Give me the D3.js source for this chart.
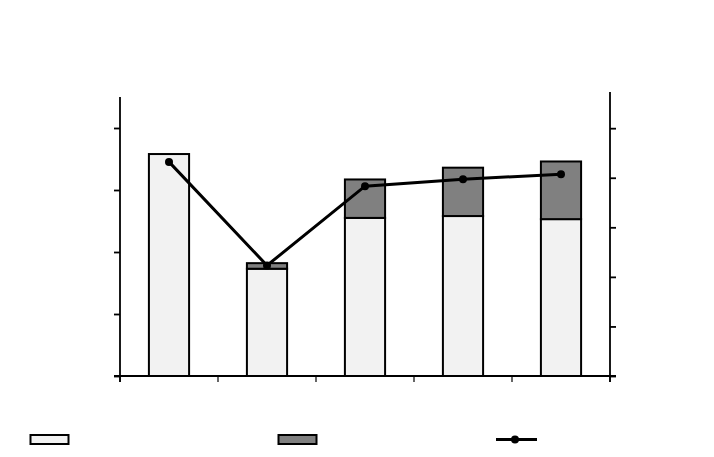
<!DOCTYPE html>
<html>
<head>
<meta charset="utf-8">
<script src="https://cdn.jsdelivr.net/npm/d3@7"></script>
<style>
  body { margin: 0; background: #fff; }
  svg { display: block; }
</style>
</head>
<body>
<svg id="chart" width="714" height="457"></svg>
<script>
// categories (no labels are printed in the reference)
const categories = ['c1', 'c2', 'c3', 'c4', 'c5'];
// stacked bars, left axis
const lightValues = [3.58, 1.73, 2.55, 2.58, 2.53];
const darkValues = [0, 0.09, 0.62, 0.78, 0.93];
// line, right axis
const lineValues = [4.32, 2.23, 3.83, 3.97, 4.07];
// tick values
const leftTicks = [0, 1, 2, 3, 4];
const rightTicks = [0, 1, 2, 3, 4, 5];

const svg = d3.select('#chart');

const x0 = 120, x1 = 610, baseY = 376;

const xScale = d3.scaleBand().domain(categories).range([x0, x1]).padding(0.59).paddingOuter(0.295);
const yLeft = d3.scaleLinear().domain([0, 4.5]).range([baseY, 97]);
const yRight = d3.scaleLinear().domain([0, 5.73]).range([baseY, 92]);

// bars
const g = svg.append('g');
categories.forEach(function (c, i) {
    const light = lightValues[i], dark = darkValues[i];
    g.append('rect')
        .attr('x', xScale(c))
        .attr('y', yLeft(light))
        .attr('width', xScale.bandwidth())
        .attr('height', yLeft(0) - yLeft(light))
        .attr('fill', '#f2f2f2')
        .attr('stroke', '#000')
        .attr('stroke-width', 2);
    if (dark > 0) {
        g.append('rect')
            .attr('x', xScale(c))
            .attr('y', yLeft(light + dark))
            .attr('width', xScale.bandwidth())
            .attr('height', yLeft(light) - yLeft(light + dark))
            .attr('fill', '#808080')
            .attr('stroke', '#000')
            .attr('stroke-width', 2);
    }
});

// left axis
svg.append('g')
    .attr('transform', 'translate(' + x0 + ',0)')
    .call(d3.axisLeft(yLeft).tickValues(leftTicks).tickSize(6).tickFormat(''))
    .call(function (a) { a.select('.domain').attr('d', 'M0,' + yLeft(4.5) + 'V' + (baseY + 6)); });

// right axis
svg.append('g')
    .attr('transform', 'translate(' + x1 + ',0)')
    .call(d3.axisRight(yRight).tickValues(rightTicks).tickSize(6).tickFormat(''))
    .call(function (a) { a.select('.domain').attr('d', 'M0,' + yRight(5.73) + 'V' + (baseY + 6)); });

// x axis line and category boundary ticks
svg.append('line')
    .attr('x1', x0 - 6).attr('x2', x1 + 6)
    .attr('y1', baseY).attr('y2', baseY)
    .attr('stroke', '#000').attr('stroke-width', 2);
svg.selectAll('.xtick')
    .data([x0].concat(categories.slice(1).map(function (c) { return xScale(c) - (xScale.step() - xScale.bandwidth()) / 2; })).concat([x1]))
    .enter().append('line')
    .attr('class', 'xtick')
    .attr('x1', function (d) { return d; }).attr('x2', function (d) { return d; })
    .attr('y1', baseY).attr('y2', baseY + 6)
    .attr('stroke', '#000').attr('stroke-width', 1.2);

svg.selectAll('.tick line').attr('stroke', '#000').attr('stroke-width', 1.8);
svg.selectAll('.domain').attr('stroke', '#000').attr('stroke-width', 1.8);

// line series
const line = d3.line()
    .x(function (d, i) { return xScale(categories[i]) + xScale.bandwidth() / 2; })
    .y(function (d) { return yRight(d); });
svg.append('path')
    .datum(lineValues)
    .attr('d', line)
    .attr('fill', 'none')
    .attr('stroke', '#000')
    .attr('stroke-width', 3);
svg.selectAll('.dot')
    .data(lineValues)
    .enter().append('circle')
    .attr('class', 'dot')
    .attr('cx', function (d, i) { return xScale(categories[i]) + xScale.bandwidth() / 2; })
    .attr('cy', function (d) { return yRight(d); })
    .attr('r', 4)
    .attr('fill', '#000');

// legend
const legend = svg.append('g');
legend.append('rect').attr('x', 30.5).attr('y', 435).attr('width', 38).attr('height', 9)
    .attr('fill', '#f2f2f2').attr('stroke', '#000').attr('stroke-width', 2);
legend.append('rect').attr('x', 278.5).attr('y', 435).attr('width', 38).attr('height', 9)
    .attr('fill', '#808080').attr('stroke', '#000').attr('stroke-width', 2);
legend.append('line').attr('x1', 496).attr('x2', 537).attr('y1', 439.5).attr('y2', 439.5)
    .attr('stroke', '#000').attr('stroke-width', 3);
legend.append('circle').attr('cx', 515).attr('cy', 439.5).attr('r', 4).attr('fill', '#000');
</script>
</body>
</html>
